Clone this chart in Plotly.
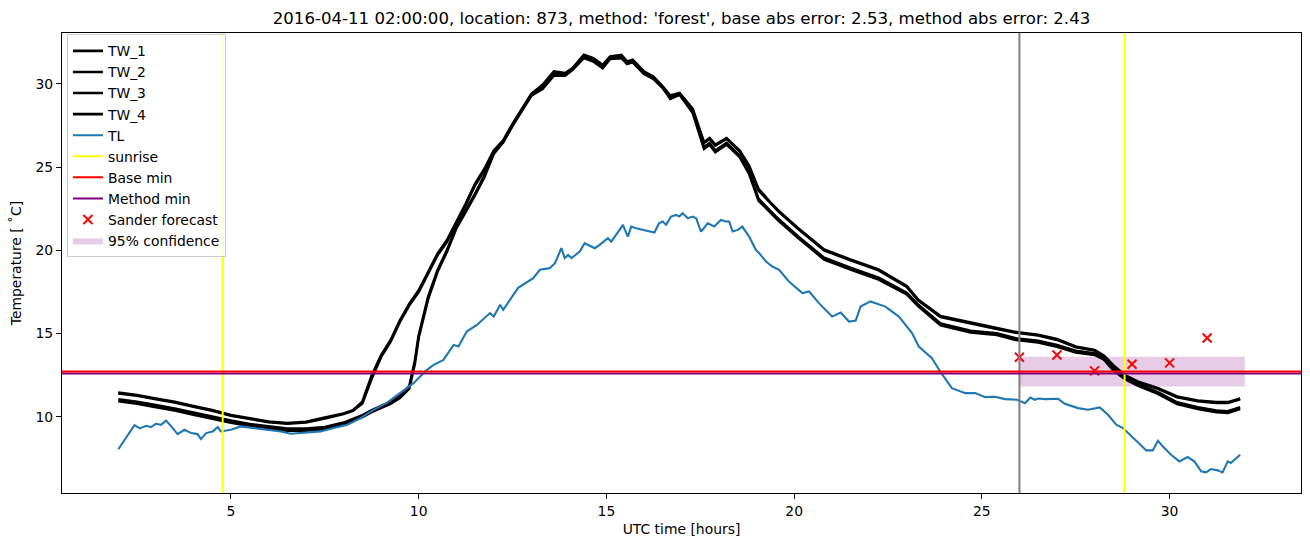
import plotly.graph_objects as go

# ---------------- data ----------------
TW_hours = [2.0, 2.5, 3.0, 3.5, 4.0, 4.5, 5.0, 5.5, 6.0, 6.5,
            7.0, 7.5, 8.0, 8.25, 8.5, 8.75, 9.0, 9.25, 9.5, 9.75,
            9.9, 10.0, 10.25, 10.5, 10.75, 11.0, 11.25, 11.5, 11.75, 12.0,
            12.25, 12.5, 12.75, 13.0, 13.3, 13.6, 13.9, 14.1, 14.4, 14.65,
            14.9, 15.1, 15.4, 15.55, 15.7, 16.0, 16.25, 16.5, 16.7, 16.95,
            17.3, 17.5, 17.6, 17.75, 17.9, 18.2, 18.55, 18.8, 19.05, 19.4,
            19.6, 20.1, 20.8, 21.5, 22.25, 23.0, 23.3, 23.9, 24.7, 25.4,
            25.9, 26.5, 27.0, 27.5, 28.0, 28.25, 28.5, 28.8, 29.15, 29.7,
            30.2, 30.75, 31.25, 31.55, 31.88]

TW_1 = [11.45, 11.3, 11.1, 10.9, 10.65, 10.4, 10.1, 9.9, 9.72, 9.62,
        9.7, 9.95, 10.2, 10.4, 10.9, 12.5, 13.7, 14.6, 15.8, 16.8,
        17.3, 17.6, 18.7, 19.8, 20.6, 21.7, 22.8, 24.0, 24.9, 26.0,
        26.6, 27.6, 28.5, 29.4, 29.95, 30.75, 30.65, 30.95, 31.75, 31.55,
        31.15, 31.65, 31.75, 31.35, 31.45, 30.75, 30.45, 29.85, 29.3, 29.45,
        28.5, 27.1, 26.5, 26.75, 26.35, 26.75, 26.0, 25.1, 23.7, 22.8,
        22.35, 21.35, 20.05, 19.45, 18.85, 17.85, 17.05, 16.05, 15.65, 15.33,
        15.1, 14.93, 14.67, 14.22, 14.02, 13.68, 13.1, 12.52, 12.12, 11.72,
        11.22, 10.98, 10.88, 10.88, 11.1]

TW_2 = [11.4, 11.26, 11.05, 10.86, 10.6, 10.36, 10.06, 9.86, 9.68, 9.58,
        9.66, 9.9, 10.16, 10.36, 10.8, 12.3, 13.6, 14.5, 15.7, 16.7,
        17.2, 17.5, 18.6, 19.7, 20.5, 21.6, 22.7, 23.9, 24.8, 25.9,
        26.5, 27.5, 28.4, 29.3, 29.85, 30.6, 30.55, 30.9, 31.65, 31.45,
        31.1, 31.55, 31.65, 31.3, 31.4, 30.7, 30.4, 29.8, 29.25, 29.4,
        28.45, 27.0, 26.45, 26.7, 26.3, 26.7, 25.95, 25.0, 23.6, 22.75,
        22.3, 21.3, 20.0, 19.4, 18.8, 17.8, 17.0, 16.0, 15.6, 15.28,
        15.05, 14.88, 14.62, 14.18, 13.98, 13.63, 13.05, 12.47, 12.07, 11.67,
        11.17, 10.93, 10.83, 10.83, 11.05]

TW_3 = [11.05, 10.9, 10.7, 10.5, 10.25, 10.0, 9.77, 9.57, 9.41, 9.29,
        9.29, 9.38, 9.65, 9.87, 10.1, 10.4, 10.65, 10.9, 11.25, 11.85,
        13.4, 14.9, 17.2, 18.8, 20.0, 21.4, 22.4, 23.4, 24.5, 25.9,
        26.55, 27.55, 28.45, 29.35, 29.8, 30.6, 30.55, 30.9, 31.65, 31.4,
        31.05, 31.55, 31.65, 31.25, 31.35, 30.65, 30.35, 29.8, 29.2, 29.4,
        28.35, 26.9, 26.2, 26.45, 26.0, 26.45, 25.7, 24.7, 23.1, 22.3,
        21.85, 20.85, 19.55, 18.95, 18.35, 17.45, 16.75, 15.6, 15.17, 15.02,
        14.72, 14.57, 14.31, 13.97, 13.82, 13.53, 12.9, 12.37, 11.97, 11.47,
        10.87, 10.57, 10.37, 10.33, 10.57]

TW_4 = [10.93, 10.78, 10.58, 10.38, 10.13, 9.88, 9.65, 9.45, 9.29, 9.17,
        9.17, 9.26, 9.53, 9.75, 9.98, 10.28, 10.53, 10.78, 11.13, 11.7,
        13.2, 14.75, 17.05, 18.7, 19.9, 21.3, 22.3, 23.3, 24.4, 25.8,
        26.5, 27.5, 28.4, 29.3, 29.7, 30.5, 30.5, 30.85, 31.55, 31.35,
        30.95, 31.5, 31.55, 31.2, 31.3, 30.6, 30.3, 29.75, 29.1, 29.35,
        28.25, 26.8, 26.1, 26.35, 25.9, 26.35, 25.6, 24.6, 23.0, 22.2,
        21.75, 20.75, 19.45, 18.85, 18.25, 17.35, 16.65, 15.5, 15.07, 14.92,
        14.62, 14.47, 14.21, 13.87, 13.72, 13.43, 12.8, 12.27, 11.87, 11.37,
        10.77, 10.47, 10.27, 10.23, 10.47]

TL_readings = [
    (2.0, 8.05), (2.2, 8.7), (2.43, 9.5), (2.57, 9.3), (2.74, 9.46), (2.87, 9.38),
    (3.0, 9.58), (3.14, 9.52), (3.27, 9.78), (3.41, 9.42), (3.58, 8.96), (3.76, 9.22),
    (3.94, 9.02), (4.11, 8.96), (4.2, 8.66), (4.34, 9.02), (4.51, 9.12), (4.65, 9.38),
    (4.73, 9.12), (5.0, 9.22), (5.26, 9.42), (5.62, 9.32), (5.97, 9.22), (6.33, 9.12),
    (6.59, 8.98), (7.03, 9.06), (7.39, 9.12), (7.74, 9.32), (8.1, 9.52), (8.45, 9.92),
    (8.8, 10.42), (9.16, 10.85), (9.51, 11.45), (9.86, 12.02), (10.22, 12.82), (10.4, 13.12),
    (10.66, 13.42), (10.93, 14.32), (11.06, 14.22), (11.28, 15.12), (11.55, 15.52), (11.9, 16.23),
    (12.0, 16.02), (12.17, 16.73), (12.25, 16.43), (12.43, 17.03), (12.65, 17.75), (13.05, 18.33),
    (13.23, 18.83), (13.49, 18.93), (13.63, 19.23), (13.8, 20.13), (13.89, 19.53), (13.98, 19.73),
    (14.07, 19.53), (14.29, 19.93), (14.42, 20.43), (14.69, 20.13), (14.82, 20.33), (15.04, 20.73),
    (15.13, 20.53), (15.35, 21.23), (15.44, 21.53), (15.57, 20.83), (15.66, 21.43), (15.79, 21.33),
    (15.97, 21.23), (16.1, 21.13), (16.28, 21.07), (16.4, 21.63), (16.5, 21.73), (16.59, 21.53),
    (16.72, 22.03), (16.86, 22.13), (16.94, 22.03), (17.03, 22.23), (17.17, 21.93), (17.3, 22.03),
    (17.39, 21.93), (17.52, 21.13), (17.7, 21.63), (17.87, 21.43), (18.05, 21.83), (18.18, 21.73),
    (18.27, 21.73), (18.36, 21.13), (18.5, 21.23), (18.62, 21.43), (18.8, 20.83), (18.98, 20.03),
    (19.07, 19.83), (19.25, 19.33), (19.42, 19.03), (19.6, 18.83), (19.86, 18.13), (20.22, 17.43),
    (20.4, 17.53), (20.66, 16.83), (21.01, 16.02), (21.24, 16.26), (21.46, 15.72), (21.64, 15.78),
    (21.77, 16.62), (22.03, 16.93), (22.43, 16.62), (22.79, 16.02), (23.14, 15.03), (23.32, 14.22),
    (23.67, 13.52), (23.89, 12.72), (24.2, 11.72), (24.56, 11.42), (24.82, 11.42), (25.09, 11.18),
    (25.35, 11.2), (25.62, 11.06), (25.94, 11.02), (26.15, 10.82), (26.29, 11.15), (26.41, 11.02),
    (26.5, 11.1), (26.68, 11.06), (27.03, 11.08), (27.21, 10.78), (27.56, 10.52), (27.83, 10.42),
    (28.0, 10.5), (28.14, 10.56), (28.36, 10.12), (28.58, 9.52), (28.76, 9.32), (29.07, 8.62),
    (29.38, 7.98), (29.55, 7.98), (29.69, 8.56), (29.86, 8.12), (30.04, 7.72), (30.26, 7.32),
    (30.48, 7.58), (30.66, 7.32), (30.84, 6.72), (30.97, 6.66), (31.1, 6.86), (31.28, 6.78),
    (31.41, 6.66), (31.55, 7.32), (31.63, 7.22), (31.88, 7.72),
]
TL_hours = [p[0] for p in TL_readings]
TL_values = [p[1] for p in TL_readings]

sunrise_hours = [4.78, 28.8]
base_min = 12.72
method_min = 12.6
forecast_start = 26.0

sander_hours = [26, 27, 28, 29, 30, 31]
sander_values = [13.58, 13.71, 12.76, 13.16, 13.24, 14.73]

conf_hours = [26.0, 32.0]
conf_low = [11.82, 11.82]
conf_high = [13.6, 13.6]

x_ticks = [5, 10, 15, 20, 25, 30]
y_ticks = [10, 15, 20, 25, 30]

title_text = ("2016-04-11 02:00:00, location: 873, method: 'forest', "
              "base abs error: 2.53, method abs error: 2.43")

# ---------------- figure ----------------
FONT = "DejaVu Sans"
fig = go.Figure()

# confidence band (drawn first so it is underneath)
fig.add_trace(go.Scatter(x=conf_hours, y=conf_low, mode="lines",
                         line=dict(width=0, color="rgba(128,0,128,0)"),
                         showlegend=False, hoverinfo="skip"))
fig.add_trace(go.Scatter(x=conf_hours, y=conf_high, mode="lines",
                         line=dict(width=0, color="rgba(128,0,128,0)"),
                         fill="tonexty", fillcolor="rgba(128,0,128,0.2)",
                         name="95% confidence", legendrank=10))

for i, (nm, vals) in enumerate([("TW_1", TW_1), ("TW_2", TW_2),
                                ("TW_3", TW_3), ("TW_4", TW_4)]):
    fig.add_trace(go.Scatter(x=TW_hours, y=vals, mode="lines", name=nm,
                             line=dict(color="black", width=2.6),
                             legendrank=1 + i))

fig.add_trace(go.Scatter(x=TL_hours, y=TL_values, mode="lines", name="TL",
                         line=dict(color="#1f77b4", width=2.1), legendrank=5))

fig.add_trace(go.Scatter(x=sander_hours, y=sander_values, mode="markers",
                         name="Sander forecast",
                         marker=dict(symbol="x-thin", size=9, color="red",
                                     line=dict(width=2, color="red")),
                         legendrank=9))

shapes = []
# forecast start (grey)
shapes.append(dict(type="line", xref="x", yref="y domain", x0=forecast_start,
                   x1=forecast_start, y0=0, y1=1, layer="above",
                   line=dict(color="grey", width=2)))
for k, h in enumerate(sunrise_hours):
    shapes.append(dict(type="line", xref="x", yref="y domain", x0=h, x1=h,
                       y0=0, y1=1, layer="above",
                       line=dict(color="#ffff00", width=2),
                       name="sunrise", legendgroup="sunrise",
                       showlegend=(k == 0), legendrank=6))
shapes.append(dict(type="line", xref="x domain", yref="y", x0=0, x1=1,
                   y0=method_min, y1=method_min, layer="above",
                   line=dict(color="purple", width=2),
                   name="Method min", showlegend=True, legendrank=8))
shapes.append(dict(type="line", xref="x domain", yref="y", x0=0, x1=1,
                   y0=base_min, y1=base_min, layer="above",
                   line=dict(color="red", width=2),
                   name="Base min", showlegend=True, legendrank=7))

fig.update_layout(
    width=1310, height=547,
    margin=dict(l=62, r=9, t=33, b=54),
    paper_bgcolor="white", plot_bgcolor="white",
    font=dict(family=FONT, size=13.9, color="black"),
    shapes=shapes,
    title=dict(text=title_text, x=(62 + 1301) / 2 / 1310, xanchor="center",
               y=1 - 18 / 547, yanchor="middle", yref="container",
               font=dict(family=FONT, size=16.6, color="black")),
    legend=dict(x=0.004, y=0.997, xanchor="left", yanchor="top",
                bgcolor="rgba(255,255,255,0.8)", bordercolor="#cccccc",
                borderwidth=1, font=dict(family=FONT, size=13.9),
                tracegroupgap=0),
    showlegend=True,
)
fig.update_xaxes(range=[0.5, 33.5], tickvals=x_ticks, ticks="outside",
                 ticklen=5, tickwidth=1, tickcolor="black",
                 showline=True, mirror=True, linecolor="black", linewidth=1,
                 showgrid=False, zeroline=False,
                 title=dict(text="UTC time [hours]", standoff=6,
                            font=dict(family=FONT, size=13.9)))
fig.update_yaxes(range=[5.42, 33.06], tickvals=y_ticks, ticks="outside",
                 ticklen=5, tickwidth=1, tickcolor="black",
                 showline=True, mirror=True, linecolor="black", linewidth=1,
                 showgrid=False, zeroline=False,
                 title=dict(text="Temperature [ \u02daC]", standoff=10,
                            font=dict(family=FONT, size=13.9)))

fig.write_html("out.html")
